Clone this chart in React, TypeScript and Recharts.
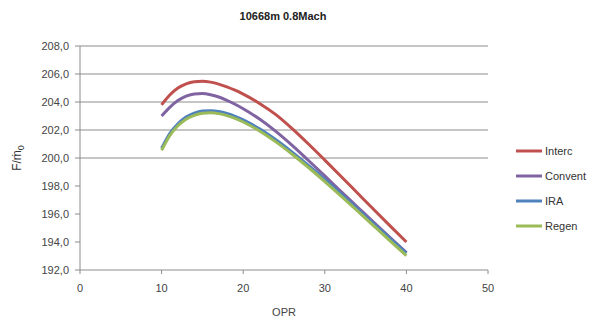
import { LineChart, Line, XAxis, YAxis, ReferenceLine } from 'recharts';

const opr = [10, 11, 12, 13, 14, 15, 16, 17, 18, 19, 20, 22, 24, 26, 28, 30, 32, 34, 36, 38, 40];
const interc = [203.8, 204.5, 205.0, 205.3, 205.45, 205.48, 205.42, 205.28, 205.08, 204.84, 204.56, 203.9, 203.1, 202.1, 201.0, 199.85, 198.68, 197.5, 196.32, 195.15, 194.0];
const convent = [203.0, 203.62, 204.1, 204.42, 204.58, 204.6, 204.52, 204.36, 204.12, 203.84, 203.52, 202.78, 201.9, 200.9, 199.82, 198.72, 197.6, 196.5, 195.4, 194.32, 193.25];
const ira = [200.7, 201.75, 202.45, 202.92, 203.2, 203.35, 203.38, 203.32, 203.18, 202.98, 202.72, 202.08, 201.3, 200.42, 199.47, 198.47, 197.43, 196.37, 195.3, 194.24, 193.2];
const regen = [200.55, 201.6, 202.3, 202.77, 203.05, 203.2, 203.23, 203.17, 203.03, 202.83, 202.57, 201.93, 201.15, 200.27, 199.32, 198.32, 197.28, 196.22, 195.15, 194.08, 193.02];

const xTicks = [0, 10, 20, 30, 40, 50];
const yTicks = [192, 194, 196, 198, 200, 202, 204, 206, 208];
const gridValues = [200, 202, 204, 206, 208];

const series = [
  { key: 'interc', name: 'Interc', color: '#C0504D' },
  { key: 'convent', name: 'Convent', color: '#8064A2' },
  { key: 'ira', name: 'IRA', color: '#4F81BD' },
  { key: 'regen', name: 'Regen', color: '#9BBB59' },
];

const data = opr.map((x, i) => ({
  opr: x,
  interc: interc[i],
  convent: convent[i],
  ira: ira[i],
  regen: regen[i],
}));

const font = '"Liberation Sans", Arial, sans-serif';

const App = () => {
  return (
    <div style={{ position: 'absolute', left: 0, top: 0, width: 597, height: 324, background: '#fff' }}>
      <div
        style={{
          position: 'absolute',
          top: 10,
          left: 0,
          width: 566,
          textAlign: 'center',
          fontFamily: font,
          fontSize: 11,
          fontWeight: 'bold',
          color: '#222',
        }}
      >
        10668m 0.8Mach
      </div>
      <LineChart width={597} height={324} data={data} margin={{ top: 46, right: 109, bottom: 24, left: 20 }}>
        {gridValues.map((v) => (
          <ReferenceLine key={v} y={v} stroke="#8c8c8c" strokeWidth={1} />
        ))}
        <XAxis
          dataKey="opr"
          type="number"
          domain={[0, 50]}
          ticks={xTicks}
          interval={0}
          stroke="#8c8c8c"
          tickSize={4}
          tick={{ fill: '#444', fontSize: 11, fontFamily: font }}
          tickMargin={10}
          label={{ value: 'OPR', position: 'insideBottom', offset: -16, fill: '#444', fontSize: 11, fontFamily: font }}
        />
        <YAxis
          type="number"
          domain={[192, 208]}
          ticks={yTicks}
          interval={0}
          width={60}
          stroke="#8c8c8c"
          tickSize={5}
          tickMargin={6}
          tickFormatter={(v: number) => v.toFixed(1).replace('.', ',')}
          tick={{ fill: '#444', fontSize: 11, fontFamily: font }}
          label={() => (
            <text
              x={21}
              y={158}
              transform="rotate(-90 21 158)"
              textAnchor="middle"
              fontSize={12}
              fill="#333"
              fontFamily={font}
            >
              F/ṁ<tspan fontSize={9} dy={3}>0</tspan>
            </text>
          )}
        />
        {series.map((s) => (
          <Line
            key={s.key}
            type="monotone"
            dataKey={s.key}
            name={s.name}
            stroke={s.color}
            strokeWidth={3}
            dot={false}
            isAnimationActive={false}
          />
        ))}
      </LineChart>
      <svg width={80} height={110} style={{ position: 'absolute', left: 514, top: 140 }}>
        {series.map((s, i) => (
          <g key={s.key} transform={`translate(0, ${i * 25 + 11})`}>
            <line x1={2} x2={28} y1={0} y2={0} stroke={s.color} strokeWidth={3} />
            <text x={31} y={4} fontSize={11} fill="#333" fontFamily={font}>
              {s.name}
            </text>
          </g>
        ))}
      </svg>
    </div>
  );
};

export default App;
